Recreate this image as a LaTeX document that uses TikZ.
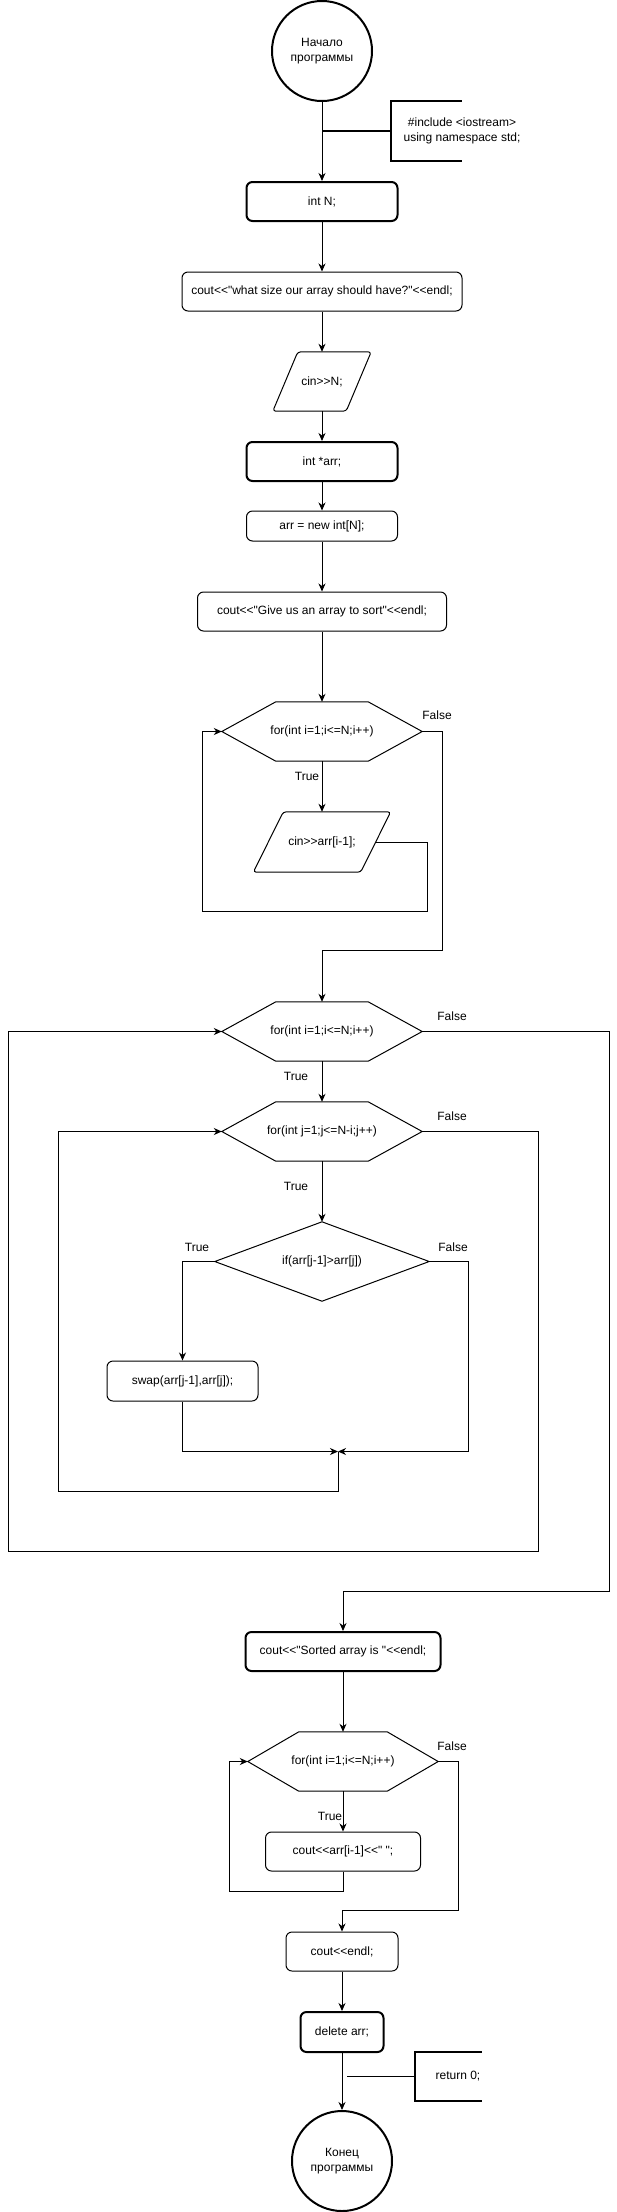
\documentclass[tikz,border=0pt]{standalone}
\usepackage{fontspec}
\setmainfont{Liberation Sans}[Ligatures=TeXOff]
\usetikzlibrary{arrows.meta}

\begin{document}
\begin{tikzpicture}[x=1pt,y=-1pt,
	every node/.style={font=\fontsize{12}{14.4}\selectfont,inner sep=0pt,align=center},
	term/.style={draw,circle,line width=2pt,minimum size=100pt},
	box/.style={draw,rounded corners=6pt,line width=1pt,minimum height=39pt},
	boldbox/.style={box,line width=2pt},
	shapebox/.style={minimum height=59pt},
	flow/.style={line width=1pt,-{Stealth[length=8pt,width=7pt,inset=2.5pt]}},
	wire/.style={line width=1pt},
	brace/.style={line width=1.5pt}]
	\useasboundingbox (0,0) rectangle (616,2212);
	% draw blocks
	\node[term] (start) at (322,51) {Начало\\программы};
	\node[minimum width=142pt,minimum height=60pt] (incl) at (462,131) {\#include <iostream>\\using namespace std;};
	\node[boldbox,minimum width=151pt] (intN) at (322,201.5) {int N;};
	\node[box,minimum width=280pt] (askN) at (322,291.5) {cout<<"what size our array should have?"<<endl;};
	\node[shapebox,minimum width=98pt] (cinN) at (322,381.5) {cin>>N;};
	\node[boldbox,minimum width=151pt] (intArr) at (322,461.5) {int *arr;};
	\node[box,minimum width=151pt,minimum height=30pt] (newArr) at (322,526) {arr = new int[N];};
	\node[box,minimum width=249pt] (askArr) at (322,611.5) {cout<<"Give us an array to sort"<<endl;};
	\node[shapebox,minimum width=200pt] (readLoop) at (322,731.5) {for(int i=1;i<=N;i++)};
	\node[shapebox,minimum width=137pt,minimum height=60pt] (cinArr) at (322,842) {cin>>arr[i-1];};
	\node[shapebox,minimum width=200pt] (outerLoop) at (322,1031.5) {for(int i=1;i<=N;i++)};
	\node[shapebox,minimum width=200pt] (innerLoop) at (322,1131.5) {for(int j=1;j<=N-i;j++)};
	\node[minimum width=214pt,minimum height=79pt] (cmp) at (322,1261.5) {if(arr[j-1]>arr[j])};
	\node[box,minimum width=151pt,minimum height=40pt] (swap) at (182.5,1381) {swap(arr[j-1],arr[j]);};
	\coordinate (join) at (338,1451.5);
	\node[boldbox,minimum width=195pt] (sorted) at (343,1651.5) {cout<<"Sorted array is "<<endl;};
	\node[shapebox,minimum width=190pt] (printLoop) at (343,1761.5) {for(int i=1;i<=N;i++)};
	\node[box,minimum width=155pt] (printArr) at (343,1851.5) {cout<<arr[i-1]<<" ";};
	\node[box,minimum width=112pt] (endLine) at (342,1951.5) {cout<<endl;};
	\node[boldbox,minimum width=83pt,minimum height=40pt] (del) at (342,2032) {delete arr;};
	\node[minimum width=86pt,minimum height=49pt] (ret) at (458,2076.5) {return 0;};
	\node[term] (stop) at (342,2161) {Конец\\программы};
	% draw outlines of loops, condition and input
	\foreach \h/\c in {readLoop/54pt,outerLoop/54pt,innerLoop/54pt,printLoop/51pt}
		\draw[wire] (\h.west) -- ([xshift=\c]\h.north west) -- ([xshift=-\c]\h.north east) -- (\h.east) -- ([xshift=-\c]\h.south east) -- ([xshift=\c]\h.south west) -- cycle;
	\foreach \p/\s in {cinN/25pt,cinArr/30pt}
		\draw[wire,rounded corners=3pt] (\p.south west) -- ([xshift=\s]\p.north west) -- (\p.north east) -- ([xshift=-\s]\p.south east) -- cycle;
	\draw[wire] (cmp.west) -- (cmp.north) -- (cmp.east) -- (cmp.south) -- cycle;
	\foreach \n/\w in {incl/71pt,ret/67pt}
		\draw[brace] ([xshift=\w]\n.north west) -- (\n.north west) -- (\n.south west) -- ([xshift=\w]\n.south west);
	% draw connections
	\draw[flow] (start) -- (intN);
	\draw[brace] (start.south |- incl.west) -- (incl.west);
	\draw[flow] (intN) -- (askN);
	\draw[flow] (askN) -- (cinN);
	\draw[flow] (cinN) -- (intArr);
	\draw[flow] (intArr) -- (newArr);
	\draw[flow] (newArr) -- (askArr);
	\draw[flow] (askArr) -- (readLoop);
	\draw[flow] (readLoop) -- (cinArr);
	\draw[flow] ([xshift=-15pt]cinArr.east) -| ++(52,69) -- ++(-225,0) |- (readLoop.west);
	\draw[flow] (readLoop.east) -| ++(20,219) -| (outerLoop.north);
	\draw[flow] (outerLoop) -- (innerLoop);
	\draw[flow] (innerLoop) -- (cmp);
	\draw[flow] (cmp.west) -| (swap.north);
	\draw[flow] (swap.south) |- (join);
	\draw[flow] (cmp.east) -| ++(39,190) -- (join);
	\draw[flow] (join) |- ++(-280,40) |- (innerLoop.west);
	\draw[flow] (innerLoop.east) -| ++(116,420) -- ++(-530,0) |- (outerLoop.west);
	\draw[flow] (outerLoop.east) -| ++(187,560) -| (sorted.north);
	\draw[flow] (sorted) -- (printLoop);
	\draw[flow] (printLoop) -- (printArr);
	\draw[flow] (printArr.south) |- ++(-114,20) |- (printLoop.west);
	\draw[flow] (printLoop.east) -| ++(20,149) -| (endLine.north);
	\draw[flow] (endLine) -- (del);
	\draw[flow] (del) -- (stop);
	\draw[brace] ([xshift=5pt]del.south |- ret.west) -- (ret.west);
	% draw branch labels
	\node (readTrue) at (307,776) {True};
	\node (readFalse) at (437,715) {False};
	\node (outerTrue) at (296,1076) {True};
	\node (outerFalse) at (452,1016) {False};
	\node (innerTrue) at (296,1186) {True};
	\node (innerFalse) at (452,1116) {False};
	\node (cmpTrue) at (197,1247) {True};
	\node (cmpFalse) at (453,1247) {False};
	\node (printTrue) at (330,1816) {True};
	\node (printFalse) at (452,1746) {False};
\end{tikzpicture}
\end{document}
